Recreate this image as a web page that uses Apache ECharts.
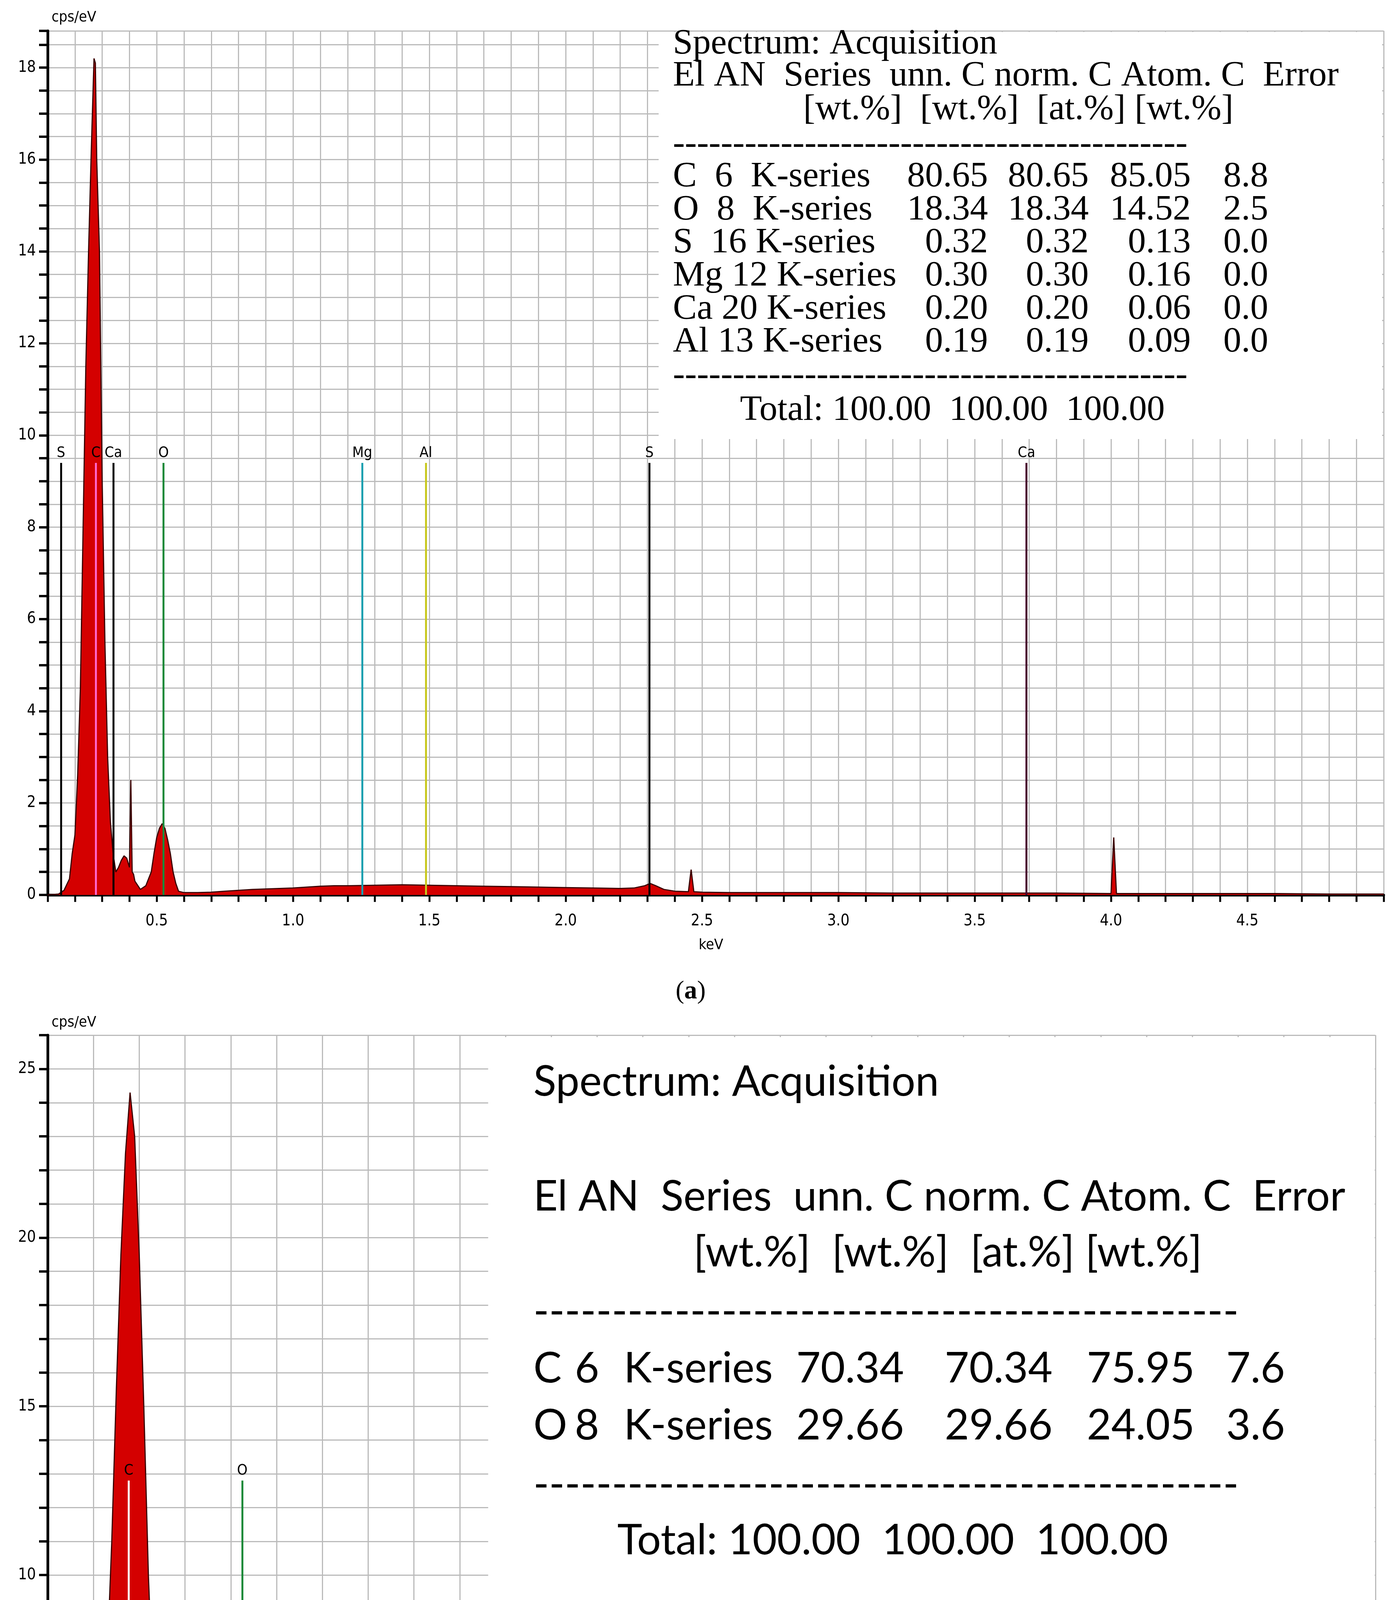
<!DOCTYPE html>
<html><head><meta charset="utf-8">
<script src="https://cdn.jsdelivr.net/npm/echarts@6/dist/echarts.min.js"></script>
<style>html,body{margin:0;background:#fff}#c{width:3571px;height:5193px}</style>
</head><body><div id="c"></div>
<script>
var chart = echarts.init(document.getElementById('c'));

// spectrum (a)
var keVA = [0.10,0.14,0.16,0.18,0.19,0.20,0.21,0.22,0.23,0.24,0.25,0.26,0.27,0.275,0.28,0.29,0.30,0.31,0.32,0.33,0.34,0.35,0.36,0.37,0.38,0.39,0.40,0.405,0.41,0.415,0.42,0.44,0.46,0.48,0.49,0.50,0.51,0.52,0.53,0.54,0.55,0.56,0.57,0.58,0.60,0.65,0.70,0.75,0.80,0.85,0.90,0.95,1.00,1.05,1.10,1.15,1.20,1.30,1.40,1.50,1.60,1.70,1.80,1.90,2.00,2.10,2.20,2.25,2.29,2.31,2.33,2.36,2.40,2.45,2.46,2.47,2.50,2.60,2.80,3.00,3.20,3.40,3.60,3.80,4.00,4.01,4.02,4.20,4.40,4.60,4.80,5.00];
var cpsA = [0,0.02,0.1,0.35,0.9,1.3,2.6,4.5,8.0,11.5,14.0,16.2,18.2,18.1,16.0,14.0,9.0,5.5,3.0,1.6,0.9,0.5,0.6,0.75,0.85,0.8,0.6,2.5,0.5,0.45,0.3,0.12,0.2,0.5,0.9,1.25,1.45,1.55,1.45,1.2,0.9,0.5,0.25,0.08,0.05,0.05,0.06,0.08,0.1,0.12,0.13,0.14,0.15,0.17,0.19,0.2,0.2,0.21,0.22,0.21,0.2,0.19,0.18,0.17,0.16,0.15,0.14,0.15,0.2,0.25,0.2,0.12,0.08,0.07,0.55,0.07,0.06,0.05,0.05,0.05,0.04,0.04,0.04,0.04,0.03,1.25,0.03,0.03,0.03,0.03,0.02,0.02];
// spectrum (b)
var keVB = [0.10,0.15,0.18,0.20,0.21,0.22,0.23,0.24,0.25,0.26,0.27,0.28,0.29,0.30,0.31,0.32,0.33,0.34,0.35,0.36,0.38,0.40,0.42,0.44,0.46,0.47,0.48,0.49,0.50,0.51,0.52,0.53,0.54,0.55,0.56,0.57,0.58,0.60,0.63,0.70,0.80,1.00,1.20,1.50,1.80,2.00,2.30,2.60,3.00];
var cpsB = [0,0.05,0.2,0.8,1.8,4.0,7.5,11.0,15.5,19.5,22.5,24.3,23.0,19.5,15.0,10.0,6.5,4.0,2.3,1.2,0.5,0.3,0.25,0.35,0.7,1.2,1.8,2.6,3.5,4.1,4.3,4.2,3.6,2.8,2.0,1.2,0.7,0.3,0.2,0.15,0.13,0.12,0.11,0.1,0.09,0.08,0.07,0.06,0.05];

// element marker lines [name, keV, colour]
var markA = [['S',0.149,'#000'],['C',0.277,'#ff66cc'],['Ca',0.341,'#000'],['O',0.525,'#1a8a3a'],['Mg',1.254,'#1aa0b0'],['Al',1.487,'#c8c820'],['S',2.307,'#000'],['Ca',3.69,'#4a0030']];
var markB = [['C',0.277,'#ffffff'],['O',0.525,'#1a8a3a']];
var markHA = 9.4, markHB = 12.8;

// tables
var rowsA = ['C  6  K-series','O  8  K-series','S  16 K-series','Mg 12 K-series','Ca 20 K-series','Al 13 K-series'];
var unnA = ['80.65','18.34','0.32','0.30','0.20','0.19'], normA = unnA;
var atomA = ['85.05','14.52','0.13','0.16','0.06','0.09'], errA = ['8.8','2.5','0.0','0.0','0.0','0.0'];
var elB = ['C','O'], anB = ['6','8'], unnB = ['70.34','29.66'], normB = unnB;
var atomB = ['75.95','24.05'], errB = ['7.6','3.6'];

var axisFont = 'DejaVu Sans Condensed';
function xAx(i, max, lastLabel) {
  return {gridIndex:i, type:'value', min:0.1, max:max, interval:0.1,
    axisLine:{lineStyle:{color:'#000',width:7}},
    axisTick:{length:18,lineStyle:{color:'#000',width:5}},
    splitLine:{show:true,lineStyle:{color:'#bbb',width:3}},
    axisLabel:{fontFamily:axisFont,fontSize:40,color:'#000',margin:48,showMaxLabel:true,
      formatter:function(v){var r=Math.round(v*2);return (Math.abs(v*2-r)<1e-6 && v<lastLabel+0.01)?v.toFixed(1):'';}}};
}
function yAx(i, max, iv, every) {
  return {gridIndex:i, type:'value', min:0, max:max, interval:iv,
    axisLine:{show:true,lineStyle:{color:'#000',width:7}},
    axisTick:{show:true,length:22,lineStyle:{color:'#000',width:6}},
    splitLine:{show:true,lineStyle:{color:'#bbb',width:3}},
    axisLabel:{fontFamily:axisFont,fontSize:40,color:'#000',margin:30,
      formatter:function(v){return Math.abs(v/every-Math.round(v/every))<1e-6?String(v):'';}}};
}
function spec(i, xs, ys, marks, h) {
  return {type:'line', xAxisIndex:i, yAxisIndex:i, symbol:'none', z:3,
    data: xs.map(function(x,k){return [x,ys[k]];}),
    lineStyle:{color:'#3a0000',width:3},
    areaStyle:{color:'#d40000',opacity:1},
    markLine:{symbol:'none', silent:true, animation:false,
      data: marks.map(function(m){return [
        {coord:[m[1],0], lineStyle:{color:m[2],width:5,type:'solid'},
         label:{show:true,position:'end',formatter:m[0],fontFamily:axisFont,fontSize:38,color:'#000',distance:6}},
        {coord:[m[1],h]}];})}};
}

var gA = {left:122, right:29, top:79, bottom:5193-2291};
var gB = {left:122, right:50, top:2650, bottom:5193-4896};

var graphic = [];
var S = 3.306;
function t(x, y, s, font, size, align) {
  graphic.push({type:'text', z:50, x:x*S, y:y*S, style:{text:s, font:size+'px "'+font+'"', fill:'#000', textVerticalAlign:'middle', textAlign:align||'left'}});
}
// table (a)
var fa = 'Liberation Serif', sa = 92;
graphic.push({type:'rect', shape:{x:510*S, y:82, width:3542-510*S-4, height:340*S-82}, style:{fill:'#fff'}, z:40});
t(521, 34, 'Spectrum: Acquisition', fa, sa);
t(521, 59, 'El AN  Series  unn. C norm. C Atom. C  Error', fa, sa);
t(622, 85, '[wt.%]  [wt.%]  [at.%] [wt.%]', fa, sa);
t(521, 112, '-------------------------------------------', fa, sa);
rowsA.forEach(function(r,k){
  var y = 137 + k*25.6;
  t(521, y, r, fa, sa);
  t(765, y, unnA[k], fa, sa, 'right'); t(843, y, normA[k], fa, sa, 'right');
  t(922, y, atomA[k], fa, sa, 'right'); t(982, y, errA[k], fa, sa, 'right');
});
t(521, 291, '-------------------------------------------', fa, sa);
t(573, 318, 'Total: 100.00  100.00  100.00', fa, sa);

// table (b)
var fb = 'Lato', sb = 108;
graphic.push({type:'rect', shape:{x:378*S, y:2655, width:3519-378*S, height:1245*S-2655}, style:{fill:'#fff'}, z:40});
t(413, 838, 'Spectrum: Acquisition', fb, sb);
t(413, 927, 'El AN  Series  unn. C norm. C Atom. C  Error', fb, sb);
t(537, 970, '[wt.%]  [wt.%]  [at.%] [wt.%]', fb, sb);
t(413, 1016, '---------------------------------------------', fb, sb);
elB.forEach(function(e,k){
  var y = 1060 + k*44;
  t(413, y, e, fb, sb); t(445, y, anB[k], fb, sb); t(483, y, 'K-series', fb, sb);
  t(700, y, unnB[k], fb, sb, 'right'); t(815, y, normB[k], fb, sb, 'right');
  t(925, y, atomB[k], fb, sb, 'right'); t(995, y, errB[k], fb, sb, 'right');
});
t(413, 1150, '---------------------------------------------', fb, sb);
t(478, 1193, 'Total: 100.00  100.00  100.00', fb, sb);

// axis names and captions
graphic.push({type:'text', z:50, x:132, y:45, style:{text:'cps/eV', font:'38px "'+axisFont+'"', fill:'#000', textVerticalAlign:'middle'}});
graphic.push({type:'text', z:50, x:132, y:2618, style:{text:'cps/eV', font:'38px "'+axisFont+'"', fill:'#000', textVerticalAlign:'middle'}});
graphic.push({type:'text', z:50, x:1820, y:2420, style:{text:'keV', font:'38px "'+axisFont+'"', fill:'#000', textAlign:'center', textVerticalAlign:'middle'}});
graphic.push({type:'text', z:50, x:1820, y:5008, style:{text:'keV', font:'38px "'+axisFont+'"', fill:'#000', textAlign:'center', textVerticalAlign:'middle'}});
graphic.push({type:'text', z:50, x:1768, y:2539, style:{text:'({b|a})', font:'66px "Liberation Serif"', fill:'#000', textAlign:'center', textVerticalAlign:'middle', rich:{b:{fontWeight:'bold', fontSize:66, fontFamily:'Liberation Serif'}}}});
graphic.push({type:'text', z:50, x:1768, y:5134, style:{text:'({b|b})', font:'66px "Liberation Serif"', fill:'#000', textAlign:'center', textVerticalAlign:'middle', rich:{b:{fontWeight:'bold', fontSize:66, fontFamily:'Liberation Serif'}}}});

var option = {
  animation:false,
  backgroundColor:'#fff',
  grid:[gA, gB],
  xAxis:[xAx(0, 5.0, 4.5), xAx(1, 3.0, 3.0)],
  yAxis:[yAx(0, 18.8, 0.5, 2), yAx(1, 26, 1, 5)],
  series:[spec(0, keVA, cpsA, markA, markHA), spec(1, keVB, cpsB, markB, markHB)],
  graphic:graphic
};
chart.setOption(option);
</script></body></html>
